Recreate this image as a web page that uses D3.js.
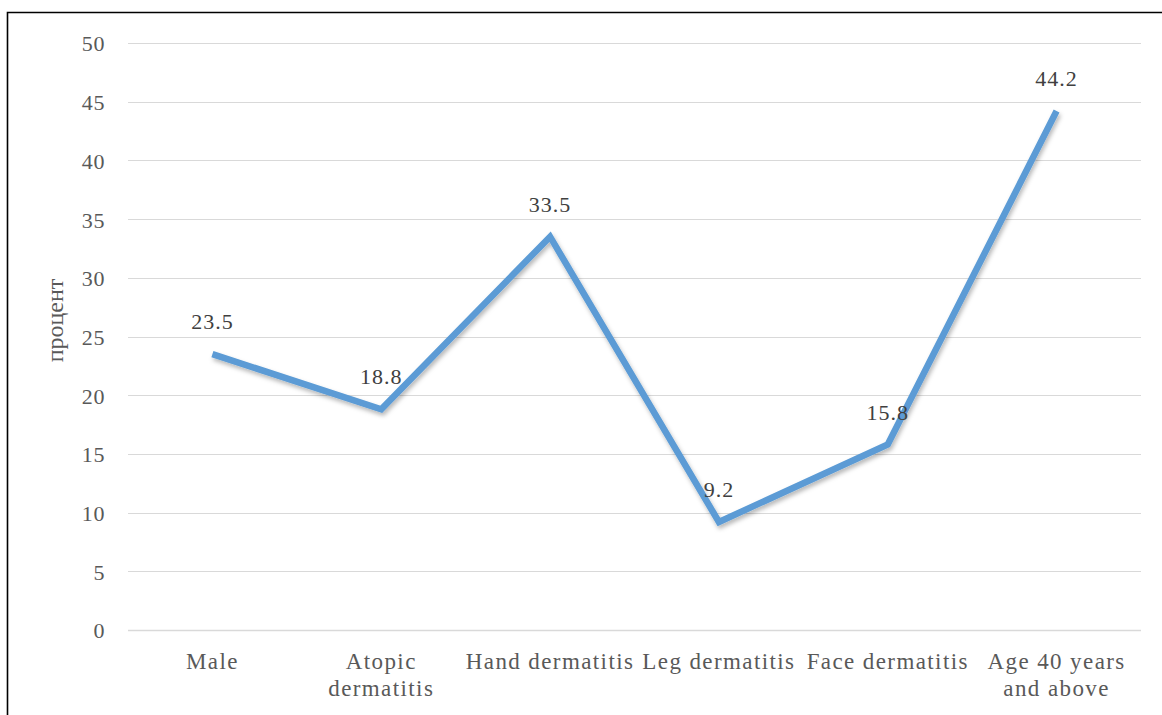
<!DOCTYPE html>
<html>
<head>
<meta charset="utf-8">
<script src="https://cdn.jsdelivr.net/npm/d3@7"></script>
<style>
  html, body { margin: 0; padding: 0; background: #fff; }
  svg { display: block; }
</style>
</head>
<body>
<svg id="chart" width="1162" height="715"></svg>
<script>
const categories = [
  ["Male"],
  ["Atopic", "dermatitis"],
  ["Hand dermatitis"],
  ["Leg dermatitis"],
  ["Face dermatitis"],
  ["Age 40 years", "and above"]
];
const values = [23.5, 18.8, 33.5, 9.2, 15.8, 44.2];
const yTicks = [0, 5, 10, 15, 20, 25, 30, 35, 40, 45, 50];
const yTitle = "процент";

const FONT = "'Liberation Serif'";
const svg = d3.select("#chart");
const W = 1162, H = 715;
const margin = { left: 128, right: 21, top: 43, bottom: 85 };

// Outer frame (left and top edges)
svg.append("path")
  .attr("d", `M7.5,${H} L7.5,12.5 L${W},12.5`)
  .attr("fill", "none").attr("stroke", "#000").attr("stroke-width", 1.6);

const x = d3.scaleBand()
  .domain(d3.range(categories.length))
  .range([margin.left, W - margin.right]);
const y = d3.scaleLinear().domain([0, 50]).range([H - margin.bottom, margin.top]);

// Horizontal gridlines
svg.append("g").selectAll("line").data(yTicks).join("line")
  .attr("x1", margin.left).attr("x2", W - margin.right)
  .attr("y1", d => Math.round(y(d)) + 0.5).attr("y2", d => Math.round(y(d)) + 0.5)
  .attr("stroke", "#d9d9d9").attr("stroke-width", d => d === 0 ? 1.5 : 1);

// Y axis labels
const yAxis = d3.axisLeft(y).tickValues(yTicks).tickSize(0).tickPadding(0);
const gy = svg.append("g").attr("transform", `translate(${margin.left - 23},0)`).call(yAxis);
gy.select(".domain").remove();
gy.attr("font-family", null).attr("font-size", null);
gy.selectAll("text")
  .attr("fill", "#595959")
  .attr("dy", "0.36em")
  .style("font-family", FONT)
  .style("font-size", "22px")
  .style("letter-spacing", "0.6px");

// Y axis title, centred on the plot's vertical middle
svg.append("text")
  .attr("transform", `translate(63,${(y(0) + y(50)) / 2 - 16}) rotate(-90)`)
  .attr("text-anchor", "middle")
  .attr("fill", "#595959")
  .style("font-family", FONT).style("font-size", "24px")
  .text(yTitle);

// Category labels
const gx = svg.append("g");
categories.forEach((lines, i) => {
  const cx = x(i) + x.bandwidth() / 2;
  const t = gx.append("text")
    .attr("x", cx)
    .attr("y", H - margin.bottom + 39)
    .attr("text-anchor", "middle")
    .attr("fill", "#595959")
    .style("font-family", FONT).style("font-size", "23px")
    .style("letter-spacing", "1.4px");
  lines.forEach((ln, j) => {
    t.append("tspan").attr("x", cx)
      .attr("dy", j === 0 ? 0 : 27).text(ln);
  });
});

// Drop shadow for the line
const defs = svg.append("defs");
const f = defs.append("filter").attr("id", "shadow")
  .attr("x", "-10%").attr("y", "-10%").attr("width", "120%").attr("height", "120%");
f.append("feDropShadow").attr("dx", 1.5).attr("dy", 3).attr("stdDeviation", 2)
  .attr("flood-color", "#000").attr("flood-opacity", 0.28);

const line = d3.line()
  .x((d, i) => x(i) + x.bandwidth() / 2)
  .y(d => y(d));

svg.append("path")
  .datum(values)
  .attr("d", line)
  .attr("fill", "none")
  .attr("stroke", "#5b9bd5")
  .attr("stroke-width", 6.5)
  .attr("stroke-linejoin", "miter")
  .attr("filter", "url(#shadow)");

// Data labels
svg.append("g").selectAll("text").data(values).join("text")
  .attr("x", (d, i) => x(i) + x.bandwidth() / 2)
  .attr("y", d => y(d) - 25)
  .attr("text-anchor", "middle")
  .attr("fill", "#404040")
  .style("font-family", FONT).style("font-size", "22px")
  .style("letter-spacing", "1px")
  .text(d => d.toFixed(1));
</script>
</body>
</html>
